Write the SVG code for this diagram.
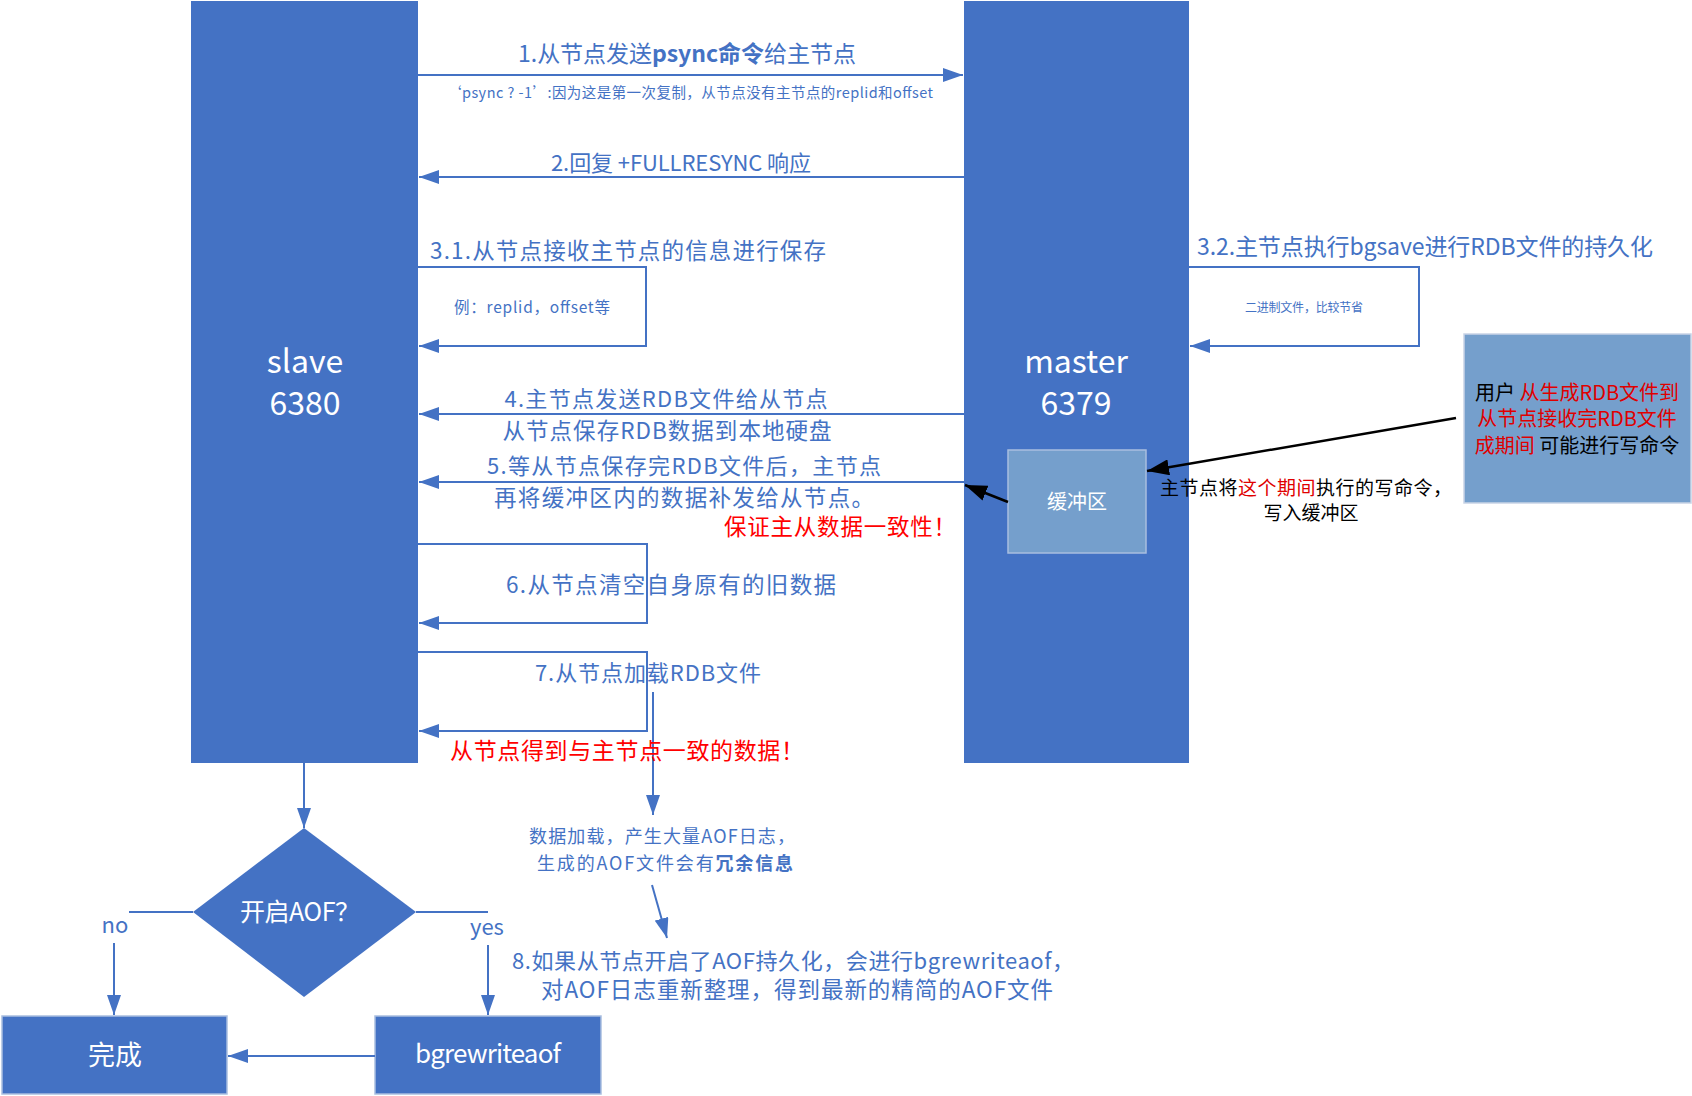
<svg xmlns="http://www.w3.org/2000/svg" width="1692" height="1096" viewBox="0 0 1692 1096">
<style>
text{font-family:"Noto Sans CJK SC","Noto Sans",sans-serif;}
.bl{fill:#4472C4;text-anchor:middle;}
.wt{fill:#FFFFFF;text-anchor:middle;}
.rd{fill:#FF0000;text-anchor:middle;}
.bk{fill:#000000;text-anchor:middle;}
.r{fill:#E00000;}
.k{fill:#000000;}
.b{font-weight:bold;}
.ln{fill:none;stroke:#4472C4;stroke-width:2;}
.ar{marker-end:url(#ah);}
.blk{fill:none;stroke:#000000;stroke-width:2.5;marker-end:url(#ak);}
.big{fill:#4472C4;}
.lt{fill:#759FCC;stroke:#A9BEDF;stroke-width:1.5;}
</style>
<defs>
<marker id="ah" markerUnits="userSpaceOnUse" markerWidth="20" markerHeight="14" refX="20" refY="7" orient="auto"><path d="M0,0 L20,7 L0,14 z" fill="#4472C4"/></marker>
<marker id="ak" markerUnits="userSpaceOnUse" markerWidth="22" markerHeight="16" refX="22" refY="8" orient="auto"><path d="M0,0 L22,8 L0,16 z" fill="#000000"/></marker>
</defs>

<g id="slave">
<rect class="big" x="191" y="1" width="227" height="762"/>
<text class="wt" x="305" y="373" font-size="32">slave</text>
<text class="wt" x="305" y="415" font-size="32">6380</text>
</g>
<g id="master">
<rect class="big" x="964" y="1" width="225" height="762"/>
<text class="wt" x="1076" y="373" font-size="32">master</text>
<text class="wt" x="1076" y="415" font-size="32">6379</text>
</g>
<g id="buffer">
<rect class="lt" x="1008" y="450" width="138" height="103"/>
<text class="wt" x="1077" y="509" font-size="20">缓冲区</text>
</g>
<g id="user">
<rect x="1464" y="334" width="227" height="169" fill="#759FCC" stroke="#C9D4E6" stroke-width="1.5"/>
<text class="bk" x="1577" y="400" font-size="20"><tspan class="k">用户 </tspan><tspan class="r">从生成RDB文件到</tspan></text>
<text class="bk" x="1577" y="426" font-size="20"><tspan class="r">从节点接收完RDB文件</tspan></text>
<text class="bk" x="1577" y="453" font-size="20"><tspan class="r">成期间</tspan><tspan class="k"> 可能进行写命令</tspan></text>
</g>
<g id="decision">
<polygon class="big" points="304,828 416,912 304,997 193,912"/>
<text class="wt" x="300" y="921" font-size="25" textLength="120">开启AOF？</text>
</g>
<g id="done">
<rect class="big" x="2" y="1016" width="225" height="78" stroke="#A9BEDF" stroke-width="1.5"/>
<text class="wt" x="115" y="1065" font-size="27">完成</text>
</g>
<g id="bgrewriteaof">
<rect class="big" x="375" y="1016" width="226" height="78" stroke="#A9BEDF" stroke-width="1.5"/>
<text class="wt" x="488" y="1063" font-size="26" textLength="146">bgrewriteaof</text>
</g>

<g id="connectors">
<path class="ln ar" d="M418,75 H963"/>
<path class="ln ar" d="M964,177 H419"/>
<path class="ln ar" d="M418,267 H646 V346 H419"/>
<path class="ln ar" d="M1189,267 H1419 V346 H1190"/>
<path class="ln ar" d="M964,414 H419"/>
<path class="ln ar" d="M964,482 H419"/>
<path class="ln ar" d="M418,544 H647 V623 H419"/>
<path class="ln ar" d="M418,652 H647 V731 H419"/>
<path class="ln ar" d="M653,692 V815"/>
<path class="ln ar" d="M652,885 L667,938"/>
<path class="ln ar" d="M304,763 V828"/>
<path class="ln" d="M193,912 H129"/>
<path class="ln ar" d="M114,943 V1015"/>
<path class="ln" d="M416,912 H488"/>
<path class="ln ar" d="M488,945 V1015"/>
<path class="ln ar" d="M375,1056 H228"/>
<path class="blk" d="M1456,418 L1147,471"/>
<path class="blk" d="M1008,502 L965,485"/>
</g>

<g id="labels">
<text class="bl" x="687" y="62" font-size="23" textLength="338">1.从节点发送<tspan class="b">psync命令</tspan>给主节点</text>
<text class="bl" x="690" y="98" font-size="14.5" textLength="486">‘psync ? -1’:因为这是第一次复制，从节点没有主节点的replid和offset</text>
<text class="bl" x="681" y="171" font-size="22" textLength="260">2.回复 +FULLRESYNC 响应</text>
<text class="bl" x="628" y="259" font-size="22.5" textLength="396">3.1.从节点接收主节点的信息进行保存</text>
<text class="bl" x="532" y="313" font-size="15.5" textLength="156">例：replid，offset等</text>
<text class="bl" x="1425" y="255" font-size="23" textLength="456">3.2.主节点执行bgsave进行RDB文件的持久化</text>
<text class="bl" x="1304" y="312" font-size="12" textLength="118">二进制文件，比较节省</text>
<text class="bl" x="666" y="407" font-size="22" textLength="323">4.主节点发送RDB文件给从节点</text>
<text class="bl" x="667" y="439" font-size="22.5" textLength="329">从节点保存RDB数据到本地硬盘</text>
<text class="bl" x="684" y="474" font-size="22" textLength="394">5.等从节点保存完RDB文件后，主节点</text>
<text class="bl" x="684" y="506" font-size="22.5" textLength="380">再将缓冲区内的数据补发给从节点。</text>
<text class="rd" x="840" y="535" font-size="22.5" textLength="232">保证主从数据一致性！</text>
<text class="bk" x="1306" y="495" font-size="19" textLength="292">主节点将<tspan class="r">这个期间</tspan>执行的写命令，</text>
<text class="bk" x="1311" y="520" font-size="19">写入缓冲区</text>
<text class="bl" x="671" y="593" font-size="22.5" textLength="330">6.从节点清空自身原有的旧数据</text>
<text class="bl" x="648" y="681" font-size="22" textLength="226">7.从节点加载RDB文件</text>
<text class="rd" x="627" y="759" font-size="23" textLength="354">从节点得到与主节点一致的数据！</text>
<text class="bl" x="662" y="843" font-size="18" textLength="266">数据加载，产生大量AOF日志，</text>
<text class="bl" x="665" y="870" font-size="18" textLength="256">生成的AOF文件会有<tspan class="b">冗余信息</tspan></text>
<text class="bl" x="115" y="933" font-size="22">no</text>
<text class="bl" x="487" y="935" font-size="22">yes</text>
<text class="bl" x="793" y="969" font-size="22" textLength="562">8.如果从节点开启了AOF持久化，会进行bgrewriteaof，</text>
<text class="bl" x="797" y="998" font-size="22.5" textLength="512">对AOF日志重新整理，得到最新的精简的AOF文件</text>
</g>
</svg>
